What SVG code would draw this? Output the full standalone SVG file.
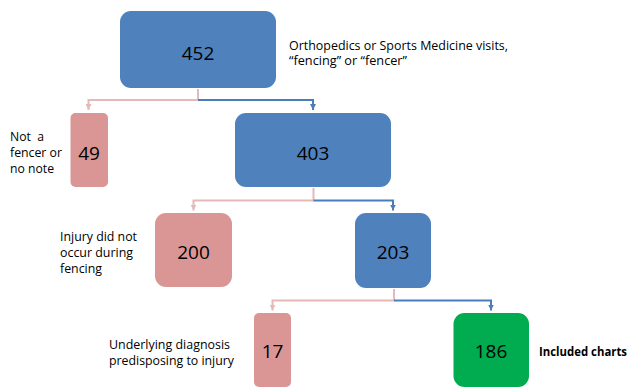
<svg xmlns="http://www.w3.org/2000/svg" width="630" height="387" viewBox="0 0 630 387">
<defs>
<marker id="ap" viewBox="0 0 6 6" refX="6" refY="3" markerWidth="6" markerHeight="6" orient="auto" markerUnits="userSpaceOnUse"><path d="M0,0 L6,3 L0,6 Z" fill="#e6b9b8"/></marker>
<marker id="ab" viewBox="0 0 6 6" refX="6" refY="3" markerWidth="6" markerHeight="6" orient="auto" markerUnits="userSpaceOnUse"><path d="M0,0 L6,3 L0,6 Z" fill="#4a7ebb"/></marker>
</defs>
<style>
.blue{fill:#4f81bd}
.pink{fill:#d99694}
.green{fill:#00ac4f}
.num{font-family:"Open Sans","Liberation Sans",sans-serif;font-size:19px;fill:#000;text-anchor:middle}
.lbl{font-family:"Open Sans","Liberation Sans",sans-serif;font-size:12px;fill:#000}
.bold{font-family:"Open Sans","Liberation Sans",sans-serif;font-size:11.5px;font-weight:bold;fill:#000}
.cp{fill:none;stroke:#e6b9b8;stroke-width:2}
.cb{fill:none;stroke:#4a7ebb;stroke-width:2}
</style>
<g id="connectors">
<path class="cp" d="M198,89 V100 H88.5 V110" marker-end="url(#ap)"/>
<path class="cb" d="M198,100 H313 V110" marker-end="url(#ab)"/>
<path class="cp" d="M313.5,188 V200.5 H193.5 V210.5" marker-end="url(#ap)"/>
<path class="cb" d="M313.5,200.5 H393 V210.5" marker-end="url(#ab)"/>
<path class="cp" d="M394,289 V300.5 H272.5 V310.5" marker-end="url(#ap)"/>
<path class="cb" d="M394,300.5 H491 V310.5" marker-end="url(#ab)"/>
</g>
<g id="n452">
<rect class="blue" x="120" y="11" width="156" height="77" rx="11"/>
<text class="num" x="198" y="60">452</text>
<text class="lbl"><tspan x="289" y="50" textLength="219" lengthAdjust="spacingAndGlyphs">Orthopedics or Sports Medicine visits,</tspan><tspan x="289" y="65" textLength="118" lengthAdjust="spacingAndGlyphs">“fencing” or “fencer”</tspan></text>
</g>
<g id="n49">
<rect class="pink" x="70.5" y="113" width="37.5" height="74" rx="5"/>
<text class="num" x="89" y="160">49</text>
<text class="lbl" x="10" y="141" xml:space="preserve" textLength="34" lengthAdjust="spacingAndGlyphs">Not  a</text>
<text class="lbl" x="10" y="157" textLength="52" lengthAdjust="spacingAndGlyphs">fencer or</text>
<text class="lbl" x="10" y="173" textLength="44" lengthAdjust="spacingAndGlyphs">no note</text>
</g>
<g id="n403">
<rect class="blue" x="235" y="113" width="156" height="74" rx="11"/>
<text class="num" x="313" y="160">403</text>
</g>
<g id="n200">
<rect class="pink" x="155" y="213" width="77" height="74" rx="11"/>
<text class="num" x="193.5" y="259">200</text>
<text class="lbl" x="60" y="241" textLength="77" lengthAdjust="spacingAndGlyphs">Injury did not</text>
<text class="lbl" x="60" y="257" textLength="73" lengthAdjust="spacingAndGlyphs">occur during</text>
<text class="lbl" x="60" y="273" textLength="42" lengthAdjust="spacingAndGlyphs">fencing</text>
</g>
<g id="n203">
<rect class="blue" x="355" y="213" width="76" height="75" rx="11"/>
<text class="num" x="393" y="259">203</text>
</g>
<g id="n17">
<rect class="pink" x="254" y="313" width="37" height="74" rx="5"/>
<text class="num" x="272.5" y="358">17</text>
<text class="lbl" x="109" y="349" textLength="121" lengthAdjust="spacingAndGlyphs">Underlying diagnosis</text>
<text class="lbl" x="109" y="365" textLength="125" lengthAdjust="spacingAndGlyphs">predisposing to injury</text>
</g>
<g id="n186">
<rect class="green" x="453.5" y="313" width="75.5" height="74" rx="11"/>
<text class="num" x="491" y="358">186</text>
<text class="bold" x="539" y="356" textLength="88" lengthAdjust="spacingAndGlyphs">Included charts</text>
</g>
</svg>
